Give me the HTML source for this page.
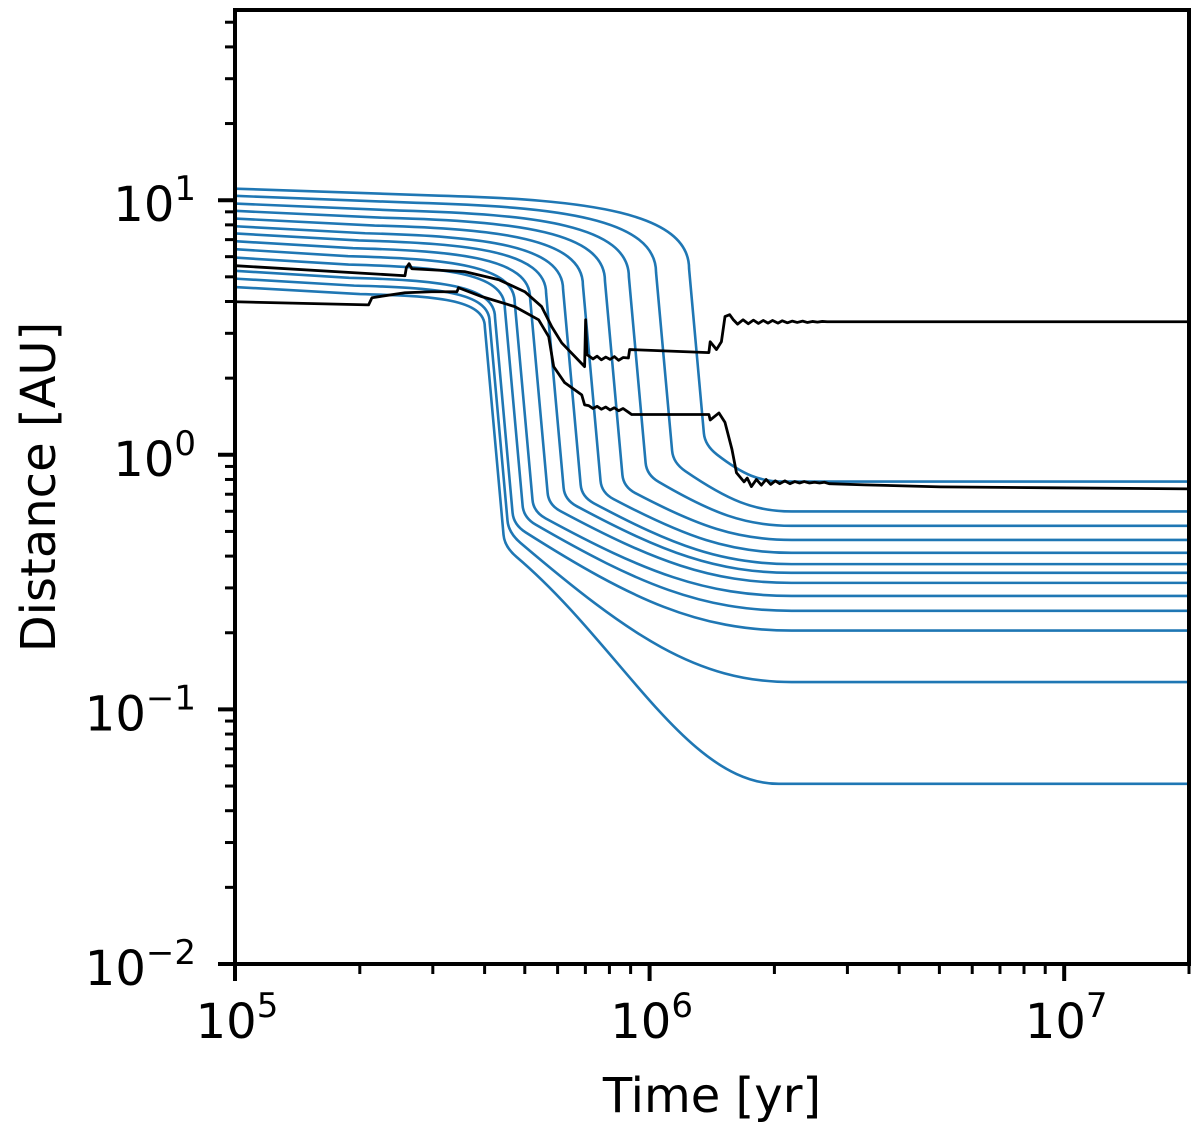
<!DOCTYPE html>
<html><head><meta charset="utf-8"><style>
html,body{margin:0;padding:0;background:#fff;}
svg{display:block;font-family:"DejaVu Sans","Liberation Sans",sans-serif;}
</style></head><body>
<svg id="chart" width="1200" height="1130" viewBox="0 0 1200 1130" xmlns="http://www.w3.org/2000/svg">
<defs><clipPath id="clip"><rect x="235" y="10" width="954" height="954"/></clipPath></defs>
<g id="blue" clip-path="url(#clip)"></g>
<g id="black" clip-path="url(#clip)"></g>
<g id="axes"></g>
<text x="712" y="1112" font-size="48" text-anchor="middle">Time [yr]</text>
<text x="0" y="0" font-size="48" text-anchor="middle" transform="translate(55,487) rotate(-90)">Distance [AU]</text>
</svg>
<script>
// ---- data ----
const xTickValues = [1e5, 1e6, 1e7];
const xTickExps = ["5", "6", "7"];
const yTickValues = [1e-2, 1e-1, 1e0, 1e1];
const yTickExps = ["\u22122", "\u22121", "0", "1"];
// blue tracks (top curve first)
const blueStart = [11.1, 10.4, 9.7, 9.08, 8.47, 7.9, 7.4, 6.9, 6.42, 5.95, 5.28, 4.92, 4.56];
const blueKneeT = [1.36e6, 1.14e6, 9.84e5, 8.65e5, 7.66e5, 6.86e5, 6.24e5, 5.71e5, 5.25e5, 4.97e5, 4.70e5, 4.57e5, 4.47e5];
const blueKneeA = [1.09, 0.93, 0.834, 0.748, 0.709, 0.684, 0.666, 0.636, 0.597, 0.566, 0.531, 0.494, 0.435];
const blueFinal = [0.785, 0.599, 0.526, 0.463, 0.412, 0.372, 0.344, 0.314, 0.279, 0.244, 0.204, 0.128, 0.051];
const blueFlatT = [2.1e6, 2.2e6, 2.2e6, 2.2e6, 2.2e6, 2.2e6, 2.2e6, 2.2e6, 2.2e6, 2.2e6, 2.2e6, 2.2e6, 2.05e6];
// black track A (upper)
const blackATimes = [1e5, 2.57e5, 2.59e5, 2.63e5, 2.67e5, 3.58e5, 4.33e5, 5.0e5, 5.49e5, 5.81e5, 6.14e5, 6.97e5, 7.01e5, 7.06e5,
  7.13e5, 7.30e5, 7.47e5, 7.65e5, 7.84e5, 8.03e5, 8.22e5, 8.42e5, 8.63e5, 8.89e5,
  8.95e5, 1.39e6, 1.40e6, 1.45e6, 1.49e6, 1.52e6, 1.56e6,
  1.59e6, 1.63e6, 1.68e6, 1.73e6, 1.78e6, 1.83e6, 1.88e6, 1.93e6, 1.98e6, 2.04e6, 2.09e6, 2.15e6, 2.21e6, 2.27e6, 2.34e6, 2.40e6, 2.47e6, 2.54e6, 2.61e6, 2.68e6,
  2e7];
const blackAValues = [5.53, 5.05, 5.43, 5.63, 5.38, 5.24, 4.87, 4.37, 3.82, 3.18, 2.75, 2.22, 3.39, 2.47,
  2.45, 2.38, 2.44, 2.36, 2.42, 2.37, 2.43, 2.35, 2.41, 2.40,
  2.59, 2.52, 2.78, 2.59, 2.78, 3.49, 3.55,
  3.40, 3.26, 3.39, 3.27, 3.38, 3.28, 3.37, 3.29, 3.37, 3.29, 3.36, 3.30, 3.35, 3.31, 3.35, 3.31, 3.34, 3.32, 3.34, 3.33,
  3.33];
// black track B (lower)
const blackBTimes = [1e5, 2.10e5, 2.14e5, 2.57e5, 2.98e5, 3.43e5, 3.46e5, 3.94e5, 4.73e5, 5.40e5, 5.71e5, 5.87e5, 6.24e5, 6.86e5, 6.97e5,
  7.13e5, 7.30e5, 7.47e5, 7.65e5, 7.84e5, 8.03e5, 8.22e5, 8.42e5, 8.63e5, 8.89e5,
  9.05e5, 1.39e6, 1.40e6, 1.47e6, 1.52e6, 1.58e6, 1.62e6, 1.69e6,
  1.72e6, 1.76e6, 1.81e6, 1.86e6, 1.91e6, 1.96e6, 2.01e6, 2.06e6, 2.12e6, 2.18e6, 2.24e6, 2.30e6, 2.36e6, 2.43e6, 2.50e6, 2.57e6, 2.64e6, 2.71e6,
  3.30e6, 5.03e6, 9.35e6, 2e7];
const blackBValues = [3.99, 3.88, 4.14, 4.33, 4.37, 4.37, 4.53, 4.18, 3.82, 3.39, 2.91, 2.22, 1.92, 1.72, 1.57,
  1.56, 1.52, 1.55, 1.51, 1.54, 1.50, 1.53, 1.49, 1.52, 1.47,
  1.44, 1.44, 1.37, 1.46, 1.34, 1.05, 0.85, 0.783,
  0.81, 0.75, 0.80, 0.76, 0.80, 0.765, 0.79, 0.77, 0.79, 0.77, 0.785, 0.775, 0.785, 0.775, 0.78, 0.775, 0.78, 0.77,
  0.762, 0.748, 0.742, 0.735];

// ---- axis functions ----
const PL = 235, PR = 1189, PT = 10, PB = 964;
const XMIN = 5, XMAX = Math.log10(2e7);
const YMIN = -2, YMAX = 1.747;
function X(t) { return PL + (Math.log10(t) - XMIN) / (XMAX - XMIN) * (PR - PL); }
function Y(v) { return PB - (Math.log10(v) - YMIN) / (YMAX - YMIN) * (PB - PT); }
const NS = "http://www.w3.org/2000/svg";
function mk(tag, attrs, parent) {
  const e = document.createElementNS(NS, tag);
  for (const k in attrs) e.setAttribute(k, attrs[k]);
  parent.appendChild(e);
  return e;
}
const f = n => n.toFixed(2);

// ---- blue curves ----
const gBlue = document.getElementById('blue');
for (let i = 0; i < blueStart.length; i++) {
  const y0 = Y(blueStart[i]), xk = X(blueKneeT[i]), yk = Y(blueKneeA[i]);
  const yf = Y(blueFinal[i]), xf = X(blueFlatT[i]);
  const w = 100 - 50 * i / (blueStart.length - 1), h = 0.8 * w, d = 7, s = 0.09, r = 12;
  const yT = y0 + h, xT = xk - (yk - yT) * s;
  const m = Math.min(0.85, (yf - yk) / ((xf - xk) * 0.6));
  const k2x = xk + r, k2y = yk + r * m;
  const dx = xf - k2x;
  const c1y = Math.min(yf, k2y + 0.4 * dx * m);
  const sx = xT - 2.5 * w;
  const dstr = `M${PL},${f(y0)} L${f(sx)},${f(y0 + d)} C${f(xT - 1.0 * w)},${f(y0 + d + 0.05 * h)} ${f(xT)},${f(yT - 0.7 * h)} ${f(xT)},${f(yT)} L${f(xk - r * s)},${f(yk - r)} Q${f(xk)},${f(yk)} ${f(k2x)},${f(k2y)} C${f(k2x + 0.4 * dx)},${f(c1y)} ${f(xf - 0.35 * dx)},${f(yf)} ${f(xf)},${f(yf)} L${PR + 5},${f(yf)}`;
  const p = mk('path', { d: dstr, fill: 'none', stroke: '#1f77b4', 'stroke-width': 2.6 }, gBlue);
  
  
}

// ---- black curves ----
const gBlack = document.getElementById('black');
function blackLine(ts, vs, name) {
  const pts = ts.map((t, j) => f(X(t)) + ',' + f(Y(vs[j]))).join(' ');
  const p = mk('polyline', { points: pts, fill: 'none', stroke: '#000', 'stroke-width': 2.8, 'stroke-linejoin': 'round' }, gBlack);
  
  
}
blackLine(blackATimes, blackAValues, 'black-track-upper');
blackLine(blackBTimes, blackBValues, 'black-track-lower');

// ---- axes ----
const gAx = document.getElementById('axes');
const frame = mk('rect', { x: PL, y: PT, width: PR - PL, height: PB - PT, fill: 'none', stroke: '#000', 'stroke-width': 4 }, gAx);


// x ticks
for (let dec = 5; dec <= 7; dec++) {
  for (let k = 1; k <= 9; k++) {
    const t = k * Math.pow(10, dec);
    if (t > 2e7 + 1) continue;
    const x = X(t), major = k === 1;
    const tk = mk('line', { x1: x, x2: x, y1: PB, y2: PB + (major ? 17 : 10), stroke: '#000', 'stroke-width': major ? 4 : 3 }, gAx);
    
    
  }
}
xTickValues.forEach((v, j) => {
  const t = mk('text', { x: X(v) + 2, y: 1038, 'font-size': 48, 'text-anchor': 'middle' }, gAx);
  
  
  t.textContent = '10';
  const sup = mk('tspan', { dy: -21, 'font-size': 34 }, t);
  sup.textContent = xTickExps[j];
});
// y ticks
for (let dec = -2; dec <= 1; dec++) {
  for (let k = 1; k <= 9; k++) {
    const v = k * Math.pow(10, dec);
    if (Math.log10(v) > YMAX) continue;
    const y = Y(v), major = k === 1;
    const tk = mk('line', { x1: PL - (major ? 17 : 10), x2: PL, y1: y, y2: y, stroke: '#000', 'stroke-width': major ? 4 : 3 }, gAx);
    
    
  }
}
yTickValues.forEach((v, j) => {
  const t = mk('text', { x: 196, y: Y(v) + 21, 'font-size': 48, 'text-anchor': 'end' }, gAx);
  
  
  t.textContent = '10';
  const sup = mk('tspan', { dy: -21, 'font-size': 34 }, t);
  sup.textContent = yTickExps[j];
});
</script>
</body></html>
